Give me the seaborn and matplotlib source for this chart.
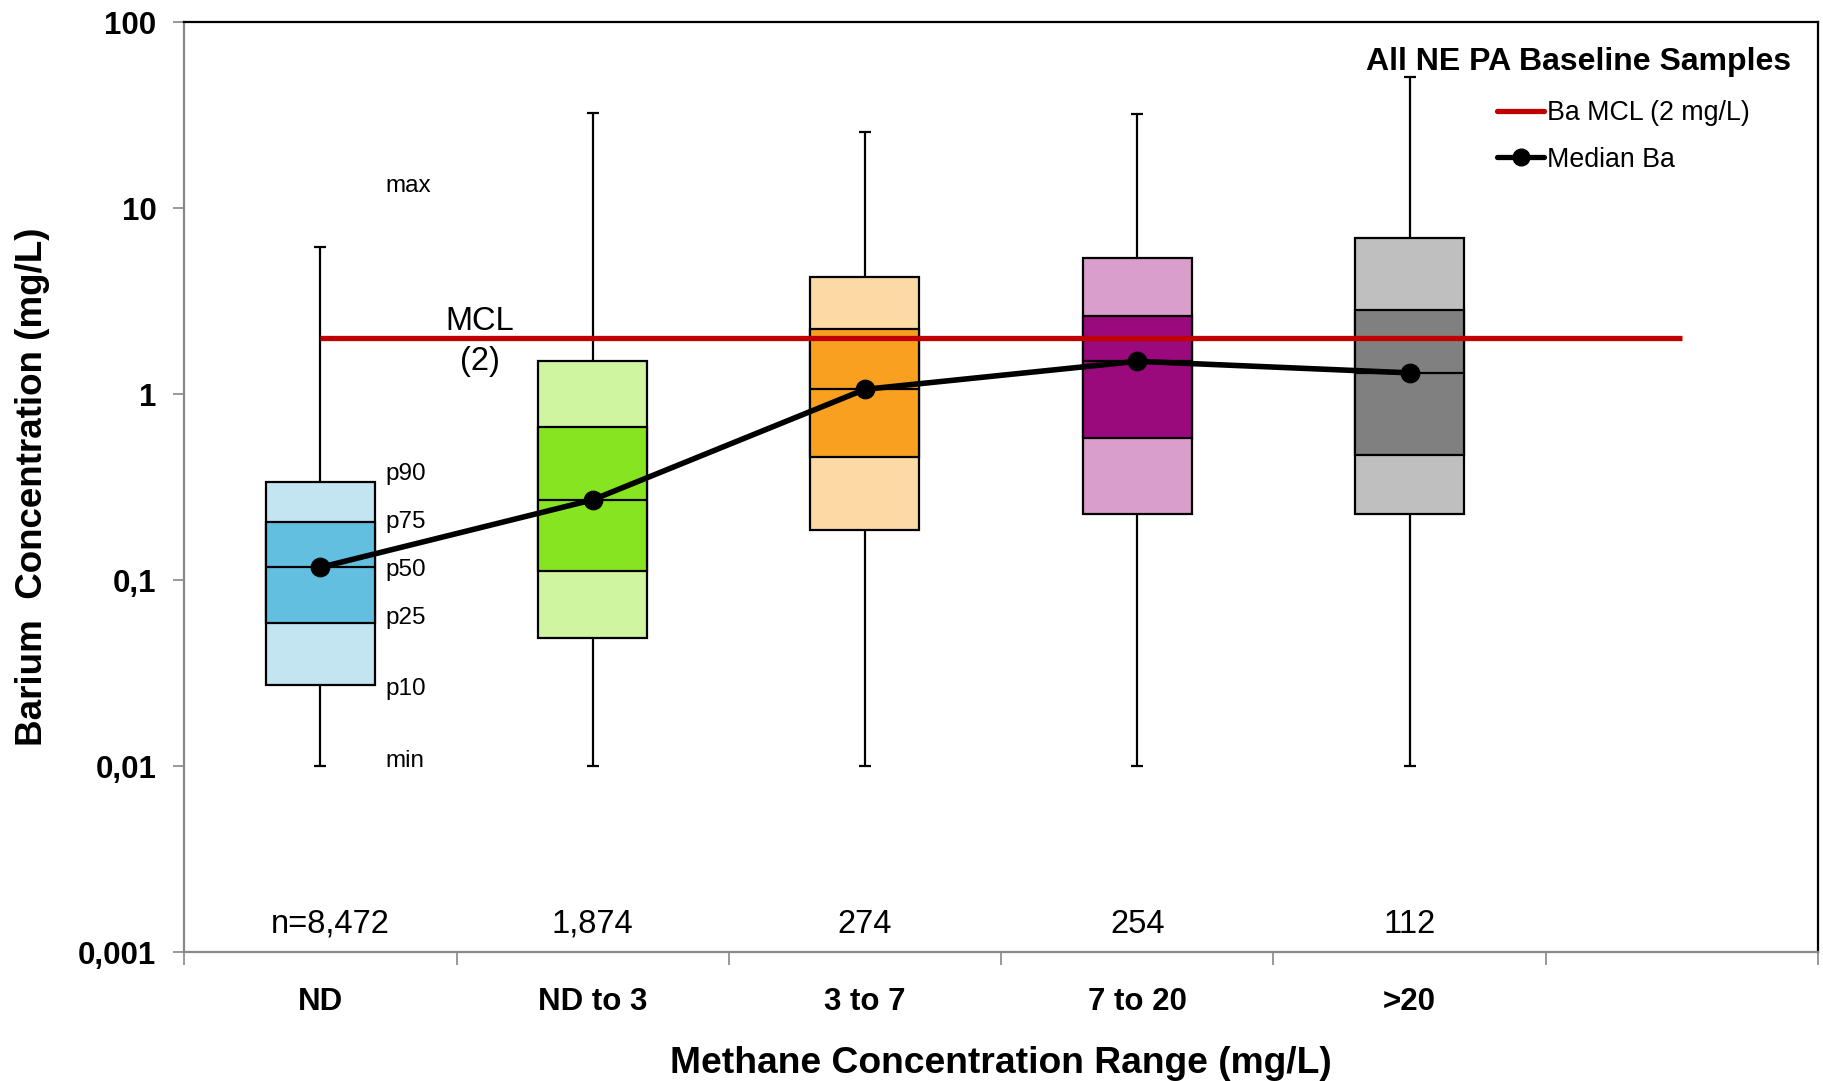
import numpy as np
import pandas as pd
import matplotlib
matplotlib.use("Agg")
import matplotlib.pyplot as plt
import seaborn as sns
from matplotlib.lines import Line2D

# ---- data ----
categories = ["ND", "ND to 3", "3 to 7", "7 to 20", ">20"]
n_labels = ["n=8,472", "1,874", "274", "254", "112"]
ba_min = [0.01, 0.01, 0.01, 0.01, 0.01]
ba_p10 = [0.0274, 0.0487, 0.186, 0.226, 0.227]
ba_p25 = [0.0588, 0.112, 0.46, 0.579, 0.473]
ba_p50 = [0.117, 0.27, 1.06, 1.50, 1.30]
ba_p75 = [0.205, 0.668, 2.24, 2.62, 2.82]
ba_p90 = [0.335, 1.50, 4.28, 5.39, 6.88]
ba_max = [6.2, 32.5, 25.5, 32.0, 50.8]
mcl_value = 2.0
light_colors = ["#C3E5F1", "#CFF5A1", "#FDD9A6", "#D99ECB", "#BFBFBF"]
dark_colors = ["#63BFE0", "#86E520", "#F9A020", "#9A0A7C", "#808080"]
stat_labels = ["max", "p90", "p75", "p50", "p25", "p10", "min"]
stat_label_y = [13.1, 0.37, 0.205, 0.113, 0.0625, 0.0259, 0.0106]
ytick_vals = [0.001, 0.01, 0.1, 1, 10, 100]
ytick_text = ["0,001", "0,01", "0,1", "1", "10", "100"]

sns.set_theme(style="white")
plt.rcParams["font.family"] = ["Liberation Sans", "DejaVu Sans"]
plt.rcParams["text.color"] = "black"
plt.rcParams["axes.labelcolor"] = "black"
plt.rcParams["xtick.color"] = "black"
plt.rcParams["ytick.color"] = "black"

fig = plt.figure(figsize=(18.24, 10.81), dpi=100)
ax = fig.add_axes([0.101, 0.1193, 0.8957, 0.8603])

pos = np.arange(len(categories))
bw = 0.40
ax.set_yscale("log")

# outer p10-p90 boxes
ax.bar(pos, np.array(ba_p90) - np.array(ba_p10), bottom=ba_p10, width=bw,
       color=light_colors, edgecolor="black", linewidth=1.6, zorder=2)
# inner p25-p75 boxes
ax.bar(pos, np.array(ba_p75) - np.array(ba_p25), bottom=ba_p25, width=bw,
       color=dark_colors, edgecolor="black", linewidth=1.6, zorder=3)
# median bars
ax.hlines(ba_p50, pos - bw / 2, pos + bw / 2, color="black", lw=1.6, zorder=4)
# whiskers
ax.vlines(pos, ba_p90, ba_max, color="black", lw=1.6, zorder=1)
ax.vlines(pos, ba_min, ba_p10, color="black", lw=1.6, zorder=1)
cw = 0.022
ax.hlines(ba_max, pos - cw, pos + cw, color="black", lw=1.6, zorder=1)
ax.hlines(ba_min, pos - cw, pos + cw, color="black", lw=1.6, zorder=1)

# MCL line
ax.plot([0, 5.0], [mcl_value, mcl_value], color="#C00000", lw=3.8, zorder=5,
        solid_capstyle="butt")

# median line
df = pd.DataFrame({"x": pos, "median": ba_p50})
sns.lineplot(data=df, x="x", y="median", ax=ax, color="black", lw=4.0,
             marker="o", markersize=13.5, markeredgecolor="black", zorder=6,
             legend=False)

# text annotations
ax.text(0.587, 2.44, "MCL", ha="center", va="center", fontsize=23.5)
ax.text(0.587, 1.50, "(2)", ha="center", va="center", fontsize=23.5)
for lab, yv in zip(stat_labels, stat_label_y):
    ax.text(0.24, yv, lab, ha="left", va="center", fontsize=17.5)
for i, (p, t) in enumerate(zip(pos, n_labels)):
    off = 0.035 if i == 0 else 0.0
    ax.text(p + off, 0.00141, t, ha="center", va="center", fontsize=23.5)

# axes
ax.set_xlim(-0.5, 5.5)
ax.set_ylim(0.001, 100)
ax.set_xticks(np.arange(-0.5, 6.0, 1.0))
ax.set_xticklabels([])
ax.set_xticks(pos, minor=True)
ax.set_xticklabels(categories, minor=True, fontsize=22.5, fontweight="bold")
ax.tick_params(axis="x", which="major", length=9, width=1.2, color="#888888",
               direction="out", bottom=True)
ax.tick_params(axis="x", which="minor", length=0, pad=25)
ax.set_yticks(ytick_vals)
ax.set_yticklabels(ytick_text, fontsize=22.5, fontweight="bold")
ax.yaxis.set_minor_locator(matplotlib.ticker.NullLocator())
ax.tick_params(axis="y", which="major", length=8, width=1.2, color="#888888",
               direction="out", left=True, pad=12)
ax.set_xlabel("Methane Concentration Range (mg/L)", fontsize=26.8,
              fontweight="bold", labelpad=21)
ax.set_ylabel("Barium  Concentration (mg/L)", fontsize=26.5, fontweight="bold",
              labelpad=20)
ax.grid(False)
for s in ["left", "bottom"]:
    ax.spines[s].set_color("#888888")
    ax.spines[s].set_linewidth(1.6)
for s in ["top", "right"]:
    ax.spines[s].set_color("black")
    ax.spines[s].set_linewidth(1.6)

# legend
fig.text(0.982, 0.943, "All NE PA Baseline Samples", ha="right", va="center",
         fontsize=23, fontweight="bold")
handles = [
    Line2D([], [], color="#C00000", lw=3.8),
    Line2D([], [], color="black", lw=3.8, marker="o", markersize=12),
]
ax.legend(handles, ["Ba MCL (2 mg/L)", "Median Ba"], loc="upper left",
          bbox_to_anchor=(0.815, 0.917), bbox_transform=fig.transFigure,
          frameon=False, fontsize=19.3, handlelength=1.75, handletextpad=0.1,
          labelspacing=0.75, borderaxespad=0)

fig.savefig("out.png", dpi=100)
